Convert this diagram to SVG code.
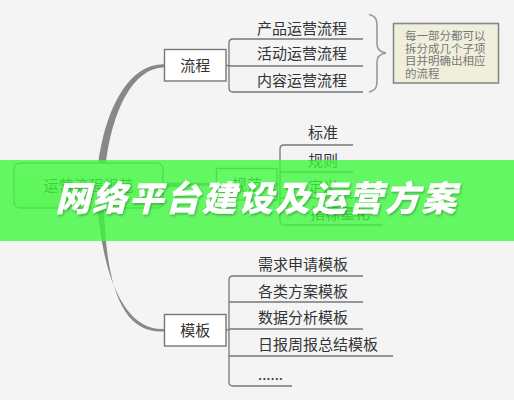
<svg xmlns="http://www.w3.org/2000/svg" width="514" height="400" viewBox="0 0 514 400">
<style>
.t{font-family:"Noto Sans CJK SC","Liberation Sans",sans-serif;font-size:15px;fill:#333}
.box{fill:#fff;stroke:#777;stroke-width:1.4}
.ln{fill:none;stroke:#777;stroke-width:1.3}
.br{fill:#888}
.note{font-family:"Noto Sans CJK SC","Liberation Sans",sans-serif;font-size:11.5px;fill:#777}
</style>
<defs>
<filter id="sh" x="-5%" y="-20%" width="110%" height="150%">
<feDropShadow dx="1" dy="1.5" stdDeviation="1.2" flood-color="#000" flood-opacity="0.3"/>
</filter>
<linearGradient id="rg" x1="0" y1="0" x2="0" y2="1">
<stop offset="0" stop-color="#f2f8ea"/>
<stop offset="1" stop-color="#dcefcc"/>
</linearGradient>
</defs>
<rect width="514" height="400" fill="#f4f4f4"/>
<g id="connectors">
<path class="br" d="M98,166 C105,110 128,64 164,64.3 L164,67.2 C133,68 112,110 105.5,166 Z"/>
<path class="br" d="M97.5,207 C104,285 128,331 164,329 L164,331.5 C124,334 106,290 104,207 Z"/>
<path class="br" d="M163,182.5 C185,182.5 200,183 216,183 L216,185.5 C200,185.5 185,187 163,187.5 Z"/>
<path class="ln" d="M226,65.5 H229"/>
<path class="ln" d="M277,184 H280"/>
<path class="ln" d="M226,330 H229"/>
</g>
<g id="root">
<rect x="14" y="163" width="149" height="45" rx="6" fill="url(#rg)" stroke="#7a9a7a" stroke-width="1.4"/>
<text class="t" x="88.5" y="191" text-anchor="middle">运营流程规范</text>
</g>
<g id="n-liucheng">
<rect class="box" x="164.5" y="49.5" width="61.5" height="31.5"/>
<text class="t" x="195.3" y="71" text-anchor="middle" font-size="16">流程</text>
</g>
<g id="n-liucheng-children">
<path class="ln" d="M363,39 H233 Q229,39 229,43 V88 Q229,92 233,92 H363 M229,66 H363"/>
<text class="t" x="257" y="33.5">产品运营流程</text>
<text class="t" x="257" y="58.5">活动运营流程</text>
<text class="t" x="257" y="85.5">内容运营流程</text>
</g>
<g id="brace">
<path d="M369,14.5 C376,16 377,20 377,27 V44 C377,49 380,52 386,53 C380,54 377,57 377,62 V80 C377,87 376,90 369,92" fill="none" stroke="#999" stroke-width="1.6"/>
</g>
<g id="note">
<rect x="393.5" y="23.5" width="105" height="59.5" fill="#efefdc" stroke="#888" stroke-width="1.6"/>
<text class="note" x="405" y="40">每一部分都可以</text>
<text class="note" x="405" y="52.5">拆分成几个子项</text>
<text class="note" x="405" y="65">目并明确出相应</text>
<text class="note" x="405" y="77.5">的流程</text>
</g>
<g id="n-guifan">
<rect class="box" x="216.5" y="168.5" width="60.5" height="31.5"/>
<text class="t" x="246.8" y="190" text-anchor="middle" font-size="16">规范</text>
</g>
<g id="n-guifan-children">
<path class="ln" d="M353,145 H284 Q280,145 280,149 V221 Q280,225 284,225 H383 M280,172 H353 M280,198 H353"/>
<text class="t" x="308" y="138">标准</text>
<text class="t" x="308" y="165.5">规则</text>
<text class="t" x="308" y="192">定义</text>
<text class="t" x="310" y="219">指标量化</text>
</g>
<g id="n-muban">
<rect class="box" x="164.5" y="314.5" width="61.5" height="31.5"/>
<text class="t" x="195.3" y="336" text-anchor="middle" font-size="16">模板</text>
</g>
<g id="n-muban-children">
<path class="ln" d="M363,276 H233 Q229,276 229,280 V382 Q229,386 233,386 H292 M229,302 H363 M229,329 H363 M229,356 H393"/>
<text class="t" x="258" y="269.5">需求申请模板</text>
<text class="t" x="258" y="296.5">各类方案模板</text>
<text class="t" x="258" y="322.5">数据分析模板</text>
<text class="t" x="258" y="349.5">日报周报总结模板</text>
<text class="t" x="258" y="380" font-size="12" fill="#555">......</text>
</g>
<rect x="0" y="160" width="514" height="81" fill="#3ef83e" opacity="0.8"/>
<text x="256.5" y="210.5" text-anchor="middle" font-family="'Noto Sans CJK SC','Liberation Sans',sans-serif" font-size="35" font-weight="900" font-style="italic" letter-spacing="1.6" fill="#fff" filter="url(#sh)">网络平台建设及运营方案</text>
</svg>
